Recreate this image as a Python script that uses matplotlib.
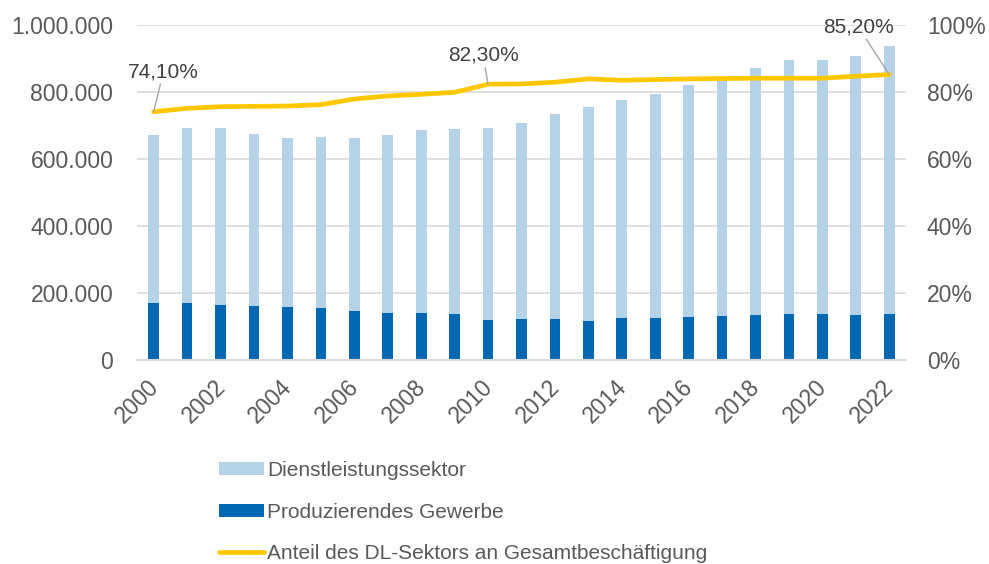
import matplotlib.pyplot as plt
import matplotlib.transforms as mtransforms
import numpy as np

plt.rcParams['font.family'] = ['Liberation Sans', 'DejaVu Sans']

# Data: Beschäftigte nach Sektor, Anteil DL-Sektor
years = list(range(2000, 2023))
produzierend = [171000, 169000, 165000, 161000, 157000, 155000, 146000, 140000, 140000, 136000,
                120000, 122000, 122000, 117000, 125000, 126000, 128000, 132000, 134000, 137000,
                137000, 135000, 137000]
gesamt = [672000, 692000, 691000, 673000, 663000, 665000, 663000, 672000, 685000, 688000,
          693000, 707000, 733000, 754000, 775000, 794000, 820000, 843000, 872000, 895000,
          896000, 907000, 937000]
dienstleistung = [g - p for g, p in zip(gesamt, produzierend)]
anteil = [74.1, 75.1, 75.6, 75.7, 75.8, 76.2, 77.9, 78.8, 79.3, 79.9,
          82.3, 82.4, 82.9, 83.9, 83.5, 83.7, 83.9, 84.0, 84.1, 84.1,
          84.1, 84.7, 85.2]
labels_idx = {0: '74,10%', 10: '82,30%', 22: '85,20%'}

grey = '#595959'
light = '#b4d3e8'
dark = '#0068b3'
gold = '#ffc800'

fig = plt.figure(figsize=(9.89, 5.64), dpi=100)
ax = fig.add_axes([0.1385, 0.362, 0.7775, 0.5937])
x = np.arange(len(years))

b1 = ax.bar(x, produzierend, width=0.32, color=dark, zorder=2, label='Produzierendes Gewerbe')
b2 = ax.bar(x, dienstleistung, width=0.32, bottom=produzierend, color=light, zorder=2,
            label='Dienstleistungssektor')

ax.set_ylim(0, 1000000)
ax.set_xlim(-0.5, len(years) - 0.5)
ax.set_yticks(np.arange(0, 1000001, 200000))
ax.set_yticklabels(['0' if v == 0 else f'{v:,}'.replace(',', '.') for v in range(0, 1000001, 200000)])
ax.grid(axis='y', color='#d9d9d9', lw=1.2, zorder=0)
ax.set_axisbelow(True)
for s in ['top', 'right', 'left']:
    ax.spines[s].set_visible(False)
ax.spines['bottom'].set_color('#d9d9d9')
ax.spines['bottom'].set_linewidth(1.5)
ax.tick_params(axis='y', length=0, labelsize=16.5, labelcolor=grey, pad=17)
ax.tick_params(axis='x', length=0, labelsize=16.5, labelcolor=grey, pad=11)
ax.set_xticks(x[::2])
ax.set_xticklabels([str(y) for y in years[::2]], rotation=45, ha='right', va='top',
                   rotation_mode='anchor')
shift = mtransforms.ScaledTranslation(-7 / 100, 0, fig.dpi_scale_trans)
for lab in ax.get_xticklabels():
    lab.set_transform(lab.get_transform() + shift)

ax2 = ax.twinx()
ax2.set_ylim(0, 100)
ax2.set_yticks(np.arange(0, 101, 20))
ax2.set_yticklabels([f'{v}%' for v in range(0, 101, 20)])
ax2.tick_params(axis='y', length=0, labelsize=16.5, labelcolor=grey, pad=15)
for s in ax2.spines.values():
    s.set_visible(False)
l1, = ax2.plot(x, anteil, color=gold, lw=3.4, solid_capstyle='round', zorder=3,
               label='Anteil des DL-Sektors an Gesamtbeschäftigung')

offsets = {0: (7, 22), 10: (-3.6, 14), 22: (-22.3, 27.5)}
for i, txt in labels_idx.items():
    ax2.annotate(txt, (x[i], anteil[i]), xytext=offsets[i], textcoords='offset points',
                 ha='center', va='bottom', fontsize=15, color='#404040',
                 arrowprops=dict(arrowstyle='-', color='#a6a6a6', lw=1,
                                 shrinkA=0, shrinkB=0))

fig.legend([b2, b1, l1], [b2.get_label(), b1.get_label(), l1.get_label()],
           loc='upper left', bbox_to_anchor=(0.2214, 0.1826), frameon=False,
           fontsize=15, labelcolor=grey, handlelength=2.16, handleheight=0.58,
           handletextpad=0.15, labelspacing=1.08, borderaxespad=0, borderpad=0)

fig.savefig('out.png', dpi=100)
